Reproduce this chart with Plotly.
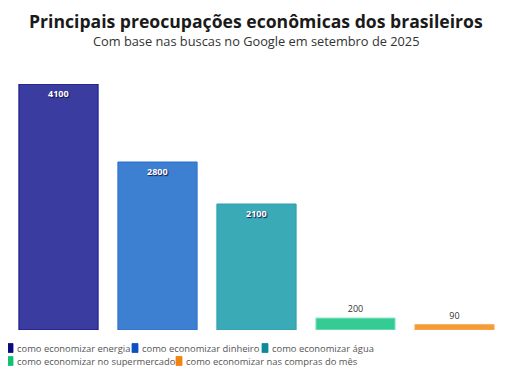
import plotly.graph_objects as go

categories = ["como economizar energia", "como economizar dinheiro", "como economizar água",
              "como economizar no supermercado", "como economizar nas compras do mês"]
values = [4100, 2800, 2100, 200, 90]
fill_colors = ["#3a3c9f", "#3d7fd0", "#39aab6", "#34cc94", "#f59a36"]
line_colors = ["#14148a", "#2b6fd0", "#2aa0ac", "#8fe8c4", "#f8b060"]
legend_colors = ["#0c0c80", "#0c50c2", "#0c8a99", "#12c172", "#f28312"]

# page body has an 8px margin; the figure is drawn offset by it
OFF = 8
W, H = 512 - OFF, 373 - OFF
# legend layout (pixel positions in the 512x373 window: symbol left x, row center y)
legend_pos = [(7, 348), (132, 348), (262, 348), (7, 361), (176, 361)]


def px(x):
    return (x - OFF) / W


def py(y):
    return 1 - (y - OFF) / H


fig = go.Figure()
for i, (c, v) in enumerate(zip(categories, values)):
    inside = v > 1000
    fig.add_trace(go.Bar(
        x=[c], y=[v], name=c, showlegend=False,
        marker=dict(color=fill_colors[i], line=dict(color=line_colors[i], width=1)),
        text=None if inside else [str(v)],
        textposition="outside",
        textangle=0,
        cliponaxis=False,
        textfont=dict(family="Open Sans, sans-serif", size=9, color="#333333"),
    ))

shapes = []
annotations = [
    dict(text="<b>Principais preocupações econômicas dos brasileiros</b>",
         x=px(256), y=1, xref="paper", yref="paper",
         xanchor="center", yanchor="top", borderpad=0,
         showarrow=False, font=dict(family="Open Sans, sans-serif", size=17.6, color="#1a1a1a")),
    dict(text="Com base nas buscas no Google em setembro de 2025",
         x=px(256), y=py(41), xref="paper", yref="paper", xanchor="center", yanchor="middle",
         showarrow=False, font=dict(family="Open Sans, sans-serif", size=12.8, color="#333333")),
]
for c, v in zip(categories, values):
    if v > 1000:
        annotations.append(dict(text="<b>%d</b>" % v, x=c, y=v, xref="x", yref="y",
                                xanchor="center", yanchor="top", yshift=-1, showarrow=False,
                                font=dict(family="Open Sans, sans-serif", size=9, color="white",
                                          shadow="1px 1px 1px #151550")))
for (lx, ly), c, col in zip(legend_pos, categories, legend_colors):
    shapes.append(dict(type="rect", xref="paper", yref="paper",
                       x0=px(lx), x1=px(lx + 6), y0=py(ly - 4.5), y1=py(ly + 4.5),
                       fillcolor=col, line=dict(width=0.8, color=col), layer="above"))
    annotations.append(dict(text=c, x=px(lx + 8), y=py(ly), xref="paper", yref="paper",
                            xanchor="left", yanchor="middle", showarrow=False,
                            font=dict(family="Open Sans, sans-serif", size=9.4, color="#555555")))

fig.update_layout(
    width=W, height=H,
    paper_bgcolor="white", plot_bgcolor="white",
    margin=dict(l=0, r=0, t=0, b=0),
    bargap=0.2,
    showlegend=False,
    xaxis=dict(visible=False, categoryorder="array", categoryarray=categories,
               domain=[px(9), px(504)]),
    yaxis=dict(visible=False, range=[0, 4100], domain=[py(330), py(84)]),
    shapes=shapes,
    annotations=annotations,
    font=dict(family="Open Sans, sans-serif"),
)

fig.write_html("out.html")
